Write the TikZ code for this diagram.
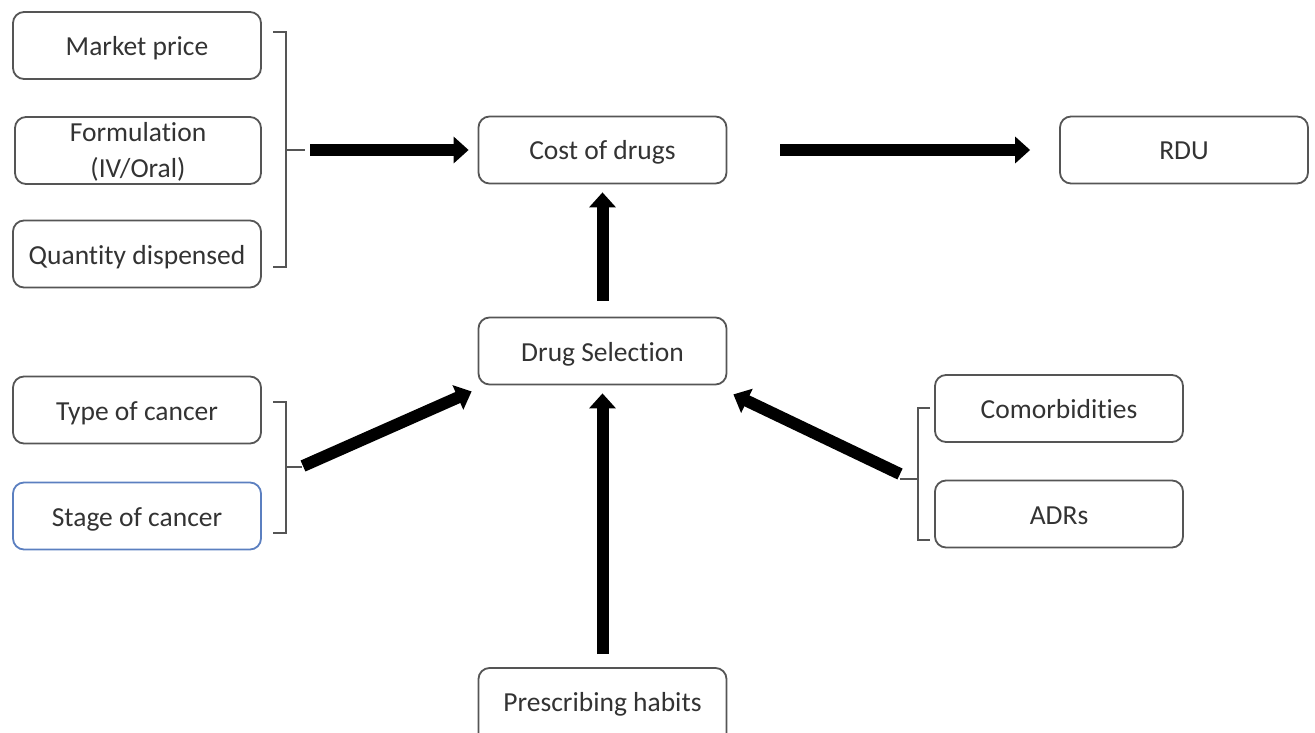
\documentclass[tikz,border=0pt]{standalone}
\usepackage{fontspec}
\setmainfont{Carlito}[Ligatures={NoCommon}]
\usetikzlibrary{arrows.meta,calc}
\definecolor{boxline}{HTML}{555555}
\definecolor{txt}{HTML}{333333}
\definecolor{blueline}{HTML}{5B7FC0}
\tikzset{
  box/.style={draw=boxline, line width=1.8pt, rounded corners=11pt, rectangle,
    minimum width=248pt, minimum height=67pt, inner sep=0pt,
    text height=20pt, text depth=0pt,
    text=txt, font=\fontsize{27.5}{36}\selectfont, align=center},
  bigarrow/.style={line width=12pt, -{Triangle[length=15pt,width=26pt]}, black},
  brace/.style={draw=boxline, line width=1.6pt}
}
\begin{document}
\begin{tikzpicture}[x=1pt,y=-1pt]
\useasboundingbox (0,0) rectangle (1315,733);
\clip (0,0) rectangle (1315,733);
% nodes
\node[box] (mp) at (137,45.5) {Market price};
\node[box, minimum width=246pt, text height=55pt] (form) at (138,150.5) {Formulation\\(IV/Oral)};
\node[box] (qd) at (137,254) {Quantity dispensed};
\node[box] (cost) at (602.5,150) {Cost of drugs};
\node[box] (rdu) at (1184,150) {RDU};
\node[box] (drug) at (602.5,351) {Drug Selection};
\node[box] (type) at (137,410) {Type of cancer};
\node[box, draw=blueline] (stage) at (137,516) {Stage of cancer};
\node[box] (como) at (1059,408.5) {Comorbidities};
\node[box] (adr) at (1059,514) {ADRs};
\node[box, minimum height=80pt, text depth=13pt] (presc) at (602.5,708) {Prescribing habits};
% brackets
\coordinate (b1) at (286,150);
\coordinate (b1e) at (305,150);
\draw[brace] (273,32) -- (286,32) -- (286,267) -- (273,267);
\draw[brace] (b1) -- (b1e);
\coordinate (b2) at (286,467);
\coordinate (b2e) at (302,467);
\draw[brace] (273,402) -- (286,402) -- (286,533) -- (273,533);
\draw[brace] (b2) -- (b2e);
\coordinate (b3) at (918,479);
\coordinate (b3e) at (900,479);
\draw[brace] (930,408) -- (918,408) -- (918,540) -- (930,540);
\draw[brace] (b3) -- (b3e);
% arrows
\draw[bigarrow] ($(b1e)+(5,0)$) -- ($(cost.west)+(-9,0)$);
\draw[bigarrow] ($(cost.east)+(53,0)$) -- ($(rdu.west)+(-29,0)$);
\draw[bigarrow] ($(drug.north)+(0,-16)$) -- ($(cost.south)+(0,8)$);
\draw[bigarrow] ($(presc.north)+(0,-13)$) -- ($(drug.south)+(0,8)$);
\draw[bigarrow] ($(b2e)+(1,-1)$) -- ($(drug.south west)+(-6,6)$);
\draw[bigarrow] ($(b3e)+(0,-5)$) -- ($(drug.south east)+(6,9)$);
\end{tikzpicture}
\end{document}
